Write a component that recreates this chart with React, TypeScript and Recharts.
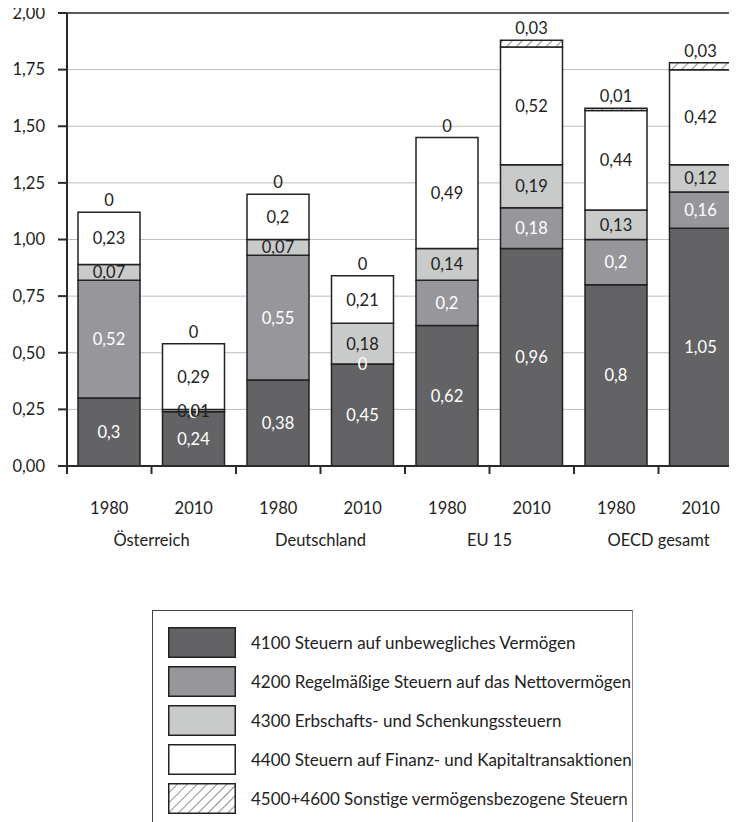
import { BarChart, Bar, XAxis, YAxis, CartesianGrid, LabelList, ReferenceLine } from "recharts";

const laender = ["Österreich", "Deutschland", "EU 15", "OECD gesamt"];
const jahre = ["1980", "2010", "1980", "2010", "1980", "2010", "1980", "2010"];

// Anteile in % des BIP je Steuerart
const s4100 = [0.3, 0.24, 0.38, 0.45, 0.62, 0.96, 0.8, 1.05];
const s4200 = [0.52, 0, 0.55, 0, 0.2, 0.18, 0.2, 0.16];
const s4300 = [0.07, 0.01, 0.07, 0.18, 0.14, 0.19, 0.13, 0.12];
const s4400 = [0.23, 0.29, 0.2, 0.21, 0.49, 0.52, 0.44, 0.42];
const s4500 = [0, 0, 0, 0, 0, 0.03, 0.01, 0.03];

const yTicks = [0, 0.25, 0.5, 0.75, 1, 1.25, 1.5, 1.75, 2];

const serien = [
  { key: "s4100", name: "4100 Steuern auf unbewegliches Vermögen", fill: "#636365", text: "#ffffff" },
  { key: "s4200", name: "4200 Regelmäßige Steuern auf das Nettovermögen", fill: "#97979b", text: "#ffffff" },
  { key: "s4300", name: "4300 Erbschafts- und Schenkungssteuern", fill: "#c9caca", text: "#222222" },
  { key: "s4400", name: "4400 Steuern auf Finanz- und Kapitaltransaktionen", fill: "#ffffff", text: "#222222" },
  { key: "s4500", name: "4500+4600 Sonstige vermögensbezogene Steuern", fill: "url(#schraffur)", text: "#222222" },
];

const data = jahre.map((jahr, i) => ({
  id: `${laender[Math.floor(i / 2)]}-${jahr}`,
  jahr,
  land: laender[Math.floor(i / 2)],
  s4100: s4100[i],
  s4200: s4200[i],
  s4300: s4300[i],
  s4400: s4400[i],
  s4500: s4500[i],
}));

const FONT = "Lato, 'Open Sans', sans-serif";
const FS = 16.5;
const komma = (v: number) => String(v).replace(".", ",");

function XTick(props: any) {
  const { x, y, index, payload } = props;
  const half = payload?.offset || 42.25;
  const eintrag = data[index];
  return (
    <g>
      <line x1={x - half} x2={x - half} y1={y} y2={y + 8} stroke="#2b2b2b" strokeWidth={2} />
      <text x={x} y={y + 48} textAnchor="middle" fontSize={FS} fill="#222" fontFamily={FONT}>
        {eintrag.jahr}
      </text>
      {index % 2 === 1 && (
        <text x={x - half} y={y + 80} textAnchor="middle" fontSize={FS} fill="#222" fontFamily={FONT}>
          {eintrag.land}
        </text>
      )}
    </g>
  );
}

const wert = (zeile: any, s: number) => zeile[serien[s].key] as number;

// Beschriftung eines Segments; Nullwerte darüber liegen auf seiner Oberkante
// und werden hier mitgezeichnet, die Schraffur-Werte kommen über den Balken.
const segmentLabel = (s: number) => (p: any) => {
  const { x, y, width, height, value } = p;
  const zeile = data.find((d) => d.id === value);
  if (!zeile) return null;
  const cx = x + width / 2;
  const texte = [
    <text key="self" x={cx} y={y + height / 2} textAnchor="middle" dominantBaseline="central"
      fontSize={FS} fill={serien[s].text} fontFamily={FONT}>
      {komma(wert(zeile, s))}
    </text>,
  ];
  if (s < 3) {
    for (let j = s + 1; j < 4 && wert(zeile, j) === 0; j++) {
      texte.push(
        <text key={j} x={cx} y={y} textAnchor="middle" dominantBaseline="central"
          fontSize={FS} fill={serien[j].text} fontFamily={FONT}>
          0
        </text>
      );
    }
  } else {
    const oben = y - (wert(zeile, 4) * height) / wert(zeile, 3);
    texte.push(
      <text key="top" x={cx} y={oben - 6} textAnchor="middle" fontSize={FS} fill="#222" fontFamily={FONT}>
        {komma(wert(zeile, 4))}
      </text>
    );
  }
  return <g>{texte}</g>;
};

function Legende() {
  return (
    <div
      style={{
        marginLeft: 144,
        marginTop: 42,
        width: 481,
        height: 230,
        border: "1px solid #444",
        borderRightColor: "#888",
        paddingTop: 12,
        paddingLeft: 15,
        boxSizing: "border-box",
        fontFamily: FONT,
        fontSize: 17,
        color: "#222",
      }}
    >
      {serien.map((s) => (
        <div key={s.key} style={{ display: "flex", alignItems: "center", height: 39 }}>
          <svg width={68} height={31} style={{ flexShrink: 0 }}>
            <defs>
              <pattern id="schraffurLeg" width="7" height="7" patternUnits="userSpaceOnUse" patternTransform="rotate(45)">
                <line x1="0" y1="0" x2="0" y2="7" stroke="#222" strokeWidth="1" />
              </pattern>
            </defs>
            <rect
              x={0.75}
              y={0.75}
              width={66.5}
              height={29.5}
              fill={s.key === "s4500" ? "url(#schraffurLeg)" : s.fill}
              stroke="#222"
              strokeWidth={1.5}
            />
          </svg>
          <span style={{ marginLeft: 15, whiteSpace: "nowrap" }}>{s.name}</span>
        </div>
      ))}
    </div>
  );
}

export default function App() {
  return (
    <div style={{ position: "relative", top: -8, width: 729, height: 822, overflow: "hidden", background: "#fff" }}>
      <BarChart width={745} height={568} data={data} margin={{ top: 13, right: 10, left: 0, bottom: 0 }}>
        <defs>
          <pattern id="schraffur" width="7" height="7" patternUnits="userSpaceOnUse" patternTransform="rotate(45)">
            <rect width="7" height="7" fill="#fff" />
            <line x1="0" y1="0" x2="0" y2="7" stroke="#222" strokeWidth="1" />
          </pattern>
        </defs>
        <CartesianGrid vertical={false} stroke="#bdbdbd" />
        <ReferenceLine y={2} stroke="#5a5a5a" strokeWidth={2} />
        <XAxis
          dataKey="id"
          height={102}
          interval={0}
          axisLine={{ stroke: "#2b2b2b", strokeWidth: 2 }}
          tickLine={false}
          tickSize={0}
          tickMargin={0}
          tick={<XTick />}
        />
        <YAxis
          width={59}
          domain={[0, 2]}
          ticks={yTicks}
          interval={0}
          tickFormatter={(v: number) => v.toFixed(2).replace(".", ",")}
          axisLine={{ stroke: "#2b2b2b", strokeWidth: 2 }}
          tickLine={{ stroke: "#2b2b2b", strokeWidth: 2 }}
          tickSize={9}
          tickMargin={13}
          tick={{ fontSize: FS, fill: "#222", fontFamily: FONT }}
        />
        {serien.map((s, i) => (
          <Bar
            key={s.key}
            dataKey={s.key}
            stackId="a"
            barSize={62}
            fill={s.fill}
            stroke="#222"
            strokeWidth={1.5}
            isAnimationActive={false}
          >
            {i < 4 && <LabelList dataKey="id" content={segmentLabel(i)} />}
          </Bar>
        ))}
      </BarChart>
      <Legende />
    </div>
  );
}
